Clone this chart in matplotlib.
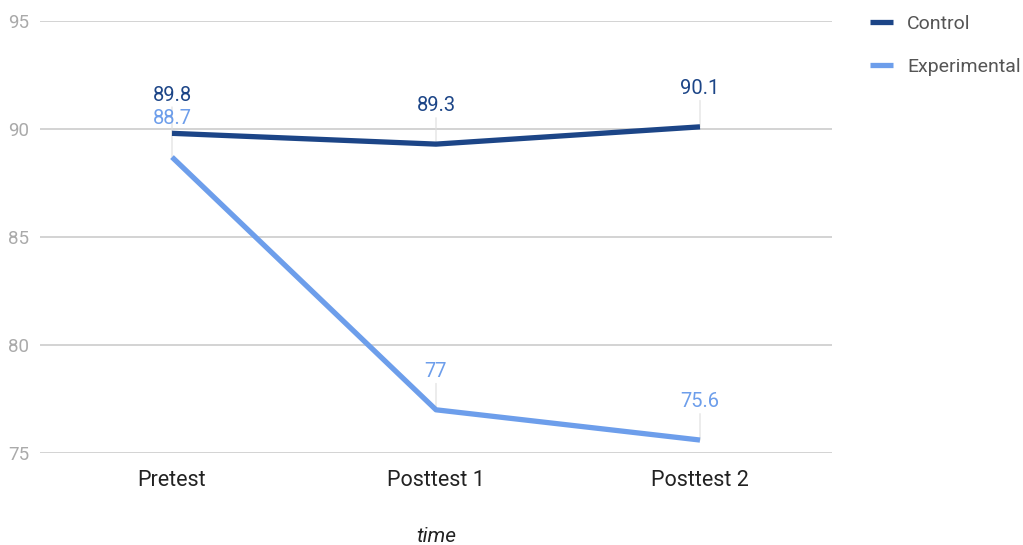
import matplotlib.pyplot as plt

plt.rcParams['font.family'] = ['Roboto', 'DejaVu Sans']

categories = ['Pretest', 'Posttest 1', 'Posttest 2']
control = [89.8, 89.3, 90.1]
experimental = [88.7, 77.0, 75.6]
control_labels = ['89.8', '89.3', '90.1']
experimental_labels = ['88.7', '77', '75.6']

dark_blue = '#1c4587'
light_blue = '#6d9eeb'

fig = plt.figure(figsize=(10.23, 5.45), dpi=100)
ax = fig.add_axes([40 / 1023, 1 - 453 / 545, 792 / 1023, 432 / 545])

x = list(range(len(categories)))

# gridlines
for v in [75, 80, 85, 90, 95]:
    ax.axhline(v, color='#cccccc', linewidth=1.2, zorder=0)

ax.plot(x, control, color=dark_blue, linewidth=3.8, label='Control',
        solid_capstyle='butt', zorder=3)
ax.plot(x, experimental, color=light_blue, linewidth=3.8, label='Experimental',
        solid_capstyle='butt', zorder=3)

# data labels with small leader lines
def add_labels(vals, texts, color):
    for xi, v, t in zip(x, vals, texts):
        ax.annotate(t, xy=(xi, v), xytext=(0, 27.5), textcoords='offset points',
                    ha='center', va='center', fontsize=14.5, color=color, zorder=4)
        ax.annotate('', xy=(xi, v), xytext=(0, 19), textcoords='offset points',
                    arrowprops=dict(arrowstyle='-', color='#dddddd', lw=0.8,
                                    shrinkA=0, shrinkB=0), zorder=1)

add_labels(control, control_labels, dark_blue)
add_labels(experimental, experimental_labels, light_blue)

ax.set_xlim(-0.5, 2.5)
ax.set_ylim(75, 95)
ax.set_yticks([75, 80, 85, 90, 95])
ax.set_xticks(x)
ax.set_xticklabels(categories)
ax.tick_params(axis='y', length=0, pad=8, labelsize=13.5, labelcolor='#aaaaaa')
ax.tick_params(axis='x', length=0, pad=12.5, labelsize=15.5, labelcolor='#222222')
for s in ax.spines.values():
    s.set_visible(False)

ax.set_xlabel('time', fontsize=15, style='italic', color='#222222', va='center')
ax.xaxis.set_label_coords(0.5, (453 - 537) / 432)

fig.legend(loc='upper left', bbox_to_anchor=(870 / 1023, 1 - 15 / 545),
           frameon=False, fontsize=14, handlelength=1.2, handletextpad=0.72,
           labelspacing=1.27, borderpad=0, borderaxespad=0, labelcolor='#555555')

fig.savefig('out.png', dpi=100)
